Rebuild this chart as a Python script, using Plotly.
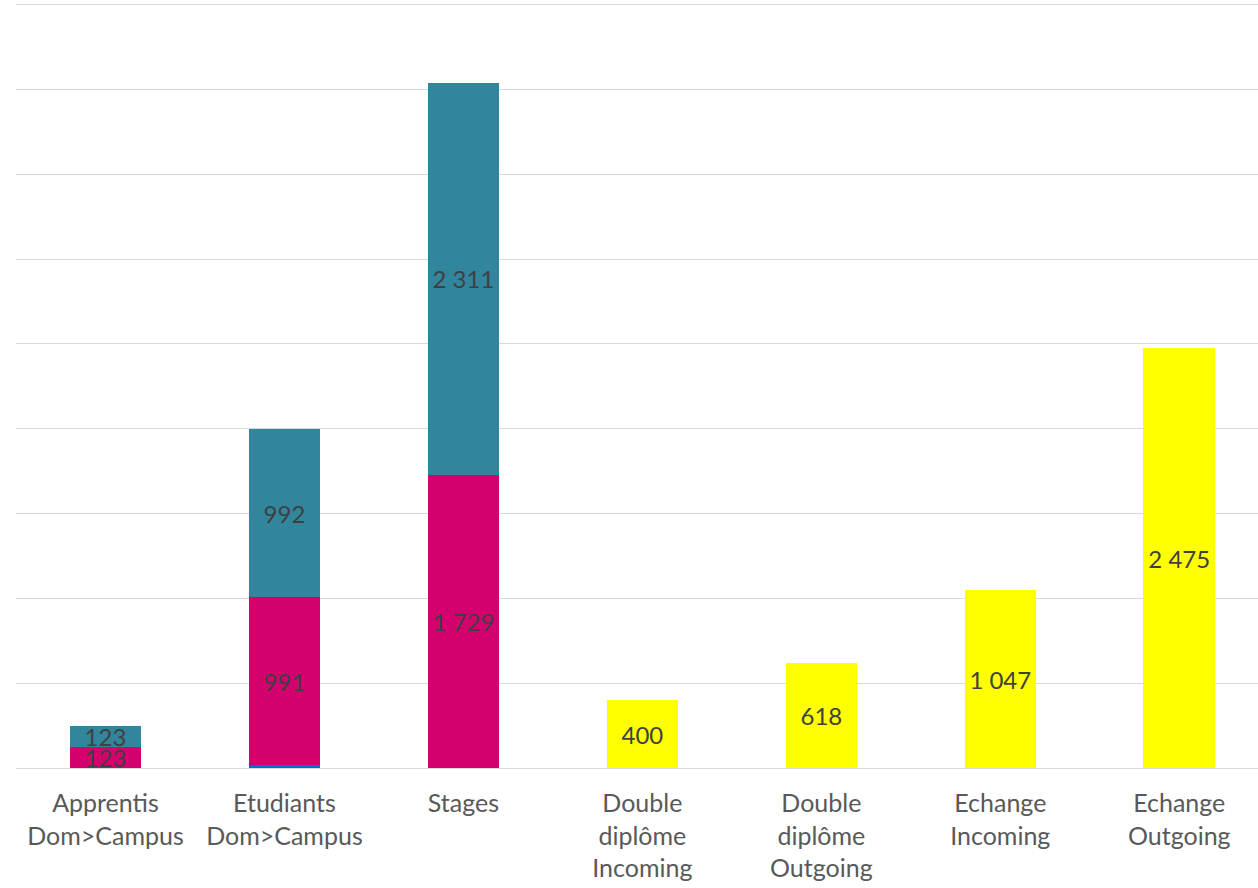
import plotly.graph_objects as go

categories = ["Apprentis<br>Dom>Campus", "Etudiants<br>Dom>Campus", "Stages",
              "Double<br>diplôme<br>Incoming", "Double<br>diplôme<br>Outgoing",
              "Echange<br>Incoming", "Echange<br>Outgoing"]
blue_vals = [None, 15, None, None, None, None, None]
magenta_vals = [123, 991, 1729, None, None, None, None]
teal_vals = [123, 992, 2311, None, None, None, None]
yellow_vals = [None, None, None, 400, 618, 1047, 2475]

def fmt(v):
    if v is None:
        return ""
    return f"{v:,}".replace(",", " ")

x = list(range(len(categories)))
fig = go.Figure()
common = dict(width=0.4, textposition="inside", insidetextanchor="middle",
              textfont=dict(color="#404040", size=24), marker_line_width=0,
              hoverinfo="skip")
fig.add_trace(go.Bar(x=x, y=blue_vals, marker_color="#0070C0", text=["" for _ in blue_vals], **common))
fig.add_trace(go.Bar(x=x, y=magenta_vals, marker_color="#D3006E", text=[fmt(v) for v in magenta_vals], **common))
fig.add_trace(go.Bar(x=x, y=teal_vals, marker_color="#31869D", text=[fmt(v) for v in teal_vals], **common))
fig.add_trace(go.Bar(x=x, y=yellow_vals, marker_color="#FFFF00", text=[fmt(v) for v in yellow_vals], **common))

fig.update_layout(
    barmode="stack", width=1258, height=888, showlegend=False,
    paper_bgcolor="white", plot_bgcolor="white",
    margin=dict(l=16, r=0, t=2, b=120),
    font=dict(family="Lato, Open Sans, sans-serif", color="#595959", size=25),
    uniformtext=dict(minsize=24, mode="show"),
)
fig.update_xaxes(tickmode="array", tickvals=x, ticktext=categories, range=[-0.5, 6.44],
                 showgrid=False, showline=False, zeroline=False,
                 ticks="outside", ticklen=13, tickcolor="rgba(0,0,0,0)",
                 tickfont=dict(size=25, color="#595959"))
fig.update_yaxes(range=[0, 4515], dtick=500, showgrid=True, gridcolor="#D9D9D9", gridwidth=1,
                 zeroline=True, zerolinecolor="#D9D9D9", zerolinewidth=1,
                 showticklabels=False, showline=False)

fig.write_html("out.html")
